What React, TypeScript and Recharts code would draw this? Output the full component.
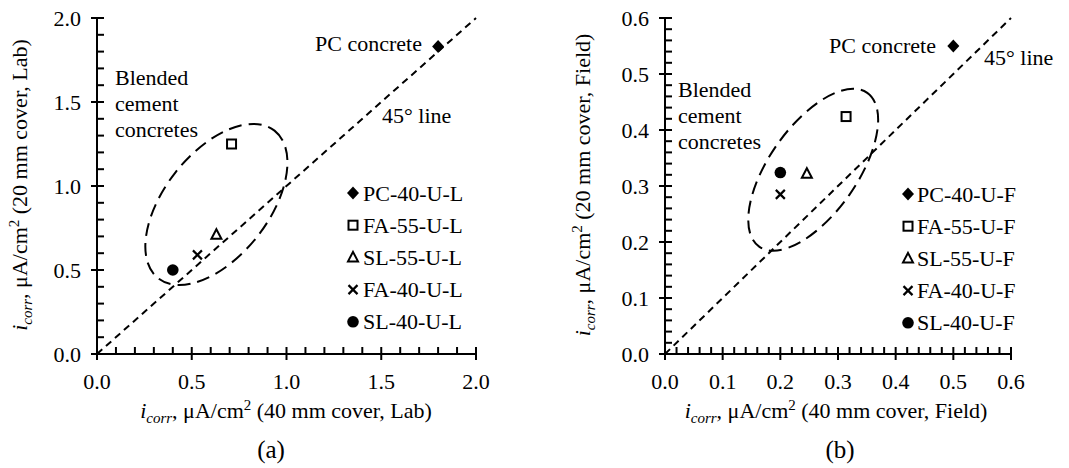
import React from 'react';
import { ScatterChart, Scatter, XAxis, YAxis, ReferenceLine, ReferenceDot, Legend } from 'recharts';

const FONT = '"Liberation Serif", "Times New Roman", Times, serif';

// (a) lab specimens: 40 mm cover vs 20 mm cover
const labPC = [{ x: 1.8, y: 1.83 }];
const labFA55 = [{ x: 0.71, y: 1.25 }];
const labSL55 = [{ x: 0.63, y: 0.71 }];
const labFA40 = [{ x: 0.53, y: 0.59 }];
const labSL40 = [{ x: 0.4, y: 0.5 }];

// (b) field specimens
const fieldPC = [{ x: 0.5, y: 0.55 }];
const fieldFA55 = [{ x: 0.314, y: 0.424 }];
const fieldSL55 = [{ x: 0.246, y: 0.322 }];
const fieldFA40 = [{ x: 0.2, y: 0.285 }];
const fieldSL40 = [{ x: 0.2, y: 0.324 }];

const labNames = ['PC-40-U-L', 'FA-55-U-L', 'SL-55-U-L', 'FA-40-U-L', 'SL-40-U-L'];
const fieldNames = ['PC-40-U-F', 'FA-55-U-F', 'SL-55-U-F', 'FA-40-U-F', 'SL-40-U-F'];

const labMajor = [0, 0.5, 1, 1.5, 2];
const labTicks = [0, 0.1, 0.2, 0.3, 0.4, 0.5, 0.6, 0.7, 0.8, 0.9, 1, 1.1, 1.2, 1.3, 1.4, 1.5, 1.6, 1.7, 1.8, 1.9, 2];
const fieldMajor = [0, 0.1, 0.2, 0.3, 0.4, 0.5, 0.6];
const fieldTicks = [
  0, 0.02, 0.04, 0.06, 0.08, 0.1, 0.12, 0.14, 0.16, 0.18, 0.2, 0.22, 0.24, 0.26, 0.28, 0.3,
  0.32, 0.34, 0.36, 0.38, 0.4, 0.42, 0.44, 0.46, 0.48, 0.5, 0.52, 0.54, 0.56, 0.58, 0.6,
];

// 45 degree line ends and the "blended" ellipse centres
const labDiag = [{ x: 0, y: 0 }, { x: 2, y: 2 }];
const fieldDiag = [{ x: 0, y: 0 }, { x: 0.6, y: 0.6 }];
const labBlend = { x: 0.63, y: 0.89 };
const fieldBlend = { x: 0.257, y: 0.329 };

const Diamond = ({ cx, cy }: any) => (
  <path d={`M${cx} ${cy - 6.5}L${cx + 6} ${cy}L${cx} ${cy + 6.5}L${cx - 6} ${cy}Z`} fill="#000" />
);
const Square = ({ cx, cy }: any) => (
  <rect x={cx - 4.5} y={cy - 4.5} width={9} height={9} fill="none" stroke="#000" strokeWidth={2} />
);
const Triangle = ({ cx, cy }: any) => (
  <path d={`M${cx} ${cy - 5.5}L${cx + 5} ${cy + 4}L${cx - 5} ${cy + 4}Z`} fill="none" stroke="#000" strokeWidth={2} />
);
const Cross = ({ cx, cy }: any) => (
  <path d={`M${cx - 4.5} ${cy - 4.5}L${cx + 4.5} ${cy + 4.5}M${cx + 4.5} ${cy - 4.5}L${cx - 4.5} ${cy + 4.5}`} stroke="#000" strokeWidth={2.2} />
);
const Dot = ({ cx, cy }: any) => <circle cx={cx} cy={cy} r={5.8} fill="#000" />;

const markers = [Diamond, Square, Triangle, Cross, Dot];

const near = (list: number[], v: number) => list.some((m) => Math.abs(m - v) < 1e-6);

const makeXTick = (major: number[]) => (props: any) => {
  const { x, y, payload } = props;
  const isMajor = near(major, payload.value);
  return (
    <g>
      <path d={`M${x} ${y - 7}V${isMajor ? y + 6 : y}`} stroke="#000" strokeWidth={2} fill="none" />
      {isMajor && (
        <text x={x} y={y + 35} textAnchor="middle" fontFamily={FONT} fontSize={22} fill="#000">
          {payload.value.toFixed(1)}
        </text>
      )}
    </g>
  );
};

const makeYTick = (major: number[]) => (props: any) => {
  const { x, y, payload } = props;
  const isMajor = near(major, payload.value);
  return (
    <g>
      <path d={`M${isMajor ? x - 6 : x} ${y}H${x + 7}`} stroke="#000" strokeWidth={2} fill="none" />
      {isMajor && (
        <text x={x - 16} y={y + 7.5} textAnchor="end" fontFamily={FONT} fontSize={22} fill="#000">
          {payload.value.toFixed(1)}
        </text>
      )}
    </g>
  );
};

const makeLegend = (names: string[], markerX: number, textX: number) => () => (
  <svg width={180} height={170} style={{ overflow: 'visible' }}>
    {names.map((name, i) => {
      const M = markers[i];
      const cy = 16 + i * 32.2;
      return (
        <g key={name}>
          <M cx={markerX} cy={cy} />
          <text x={textX} y={cy + 7.5} fontFamily={FONT} fontSize={22} fill="#000">
            {name}
          </text>
        </g>
      );
    })}
  </svg>
);

const ellipseShape = (rx: number, ry: number, angle: number) => (p: any) => (
  <ellipse
    cx={p.cx}
    cy={p.cy}
    rx={rx}
    ry={ry}
    transform={`rotate(${-angle} ${p.cx} ${p.cy})`}
    fill="none"
    stroke="#000"
    strokeWidth={2}
    strokeDasharray="13 7"
  />
);

const axisLine = { stroke: '#000', strokeWidth: 2 };

const Panel = ({ series, names, max, ticks, major, diag, blend, ell, margin, width, legendPos }: any) => (
  <ScatterChart width={width} height={468} margin={margin}>
    <XAxis
      type="number"
      dataKey="x"
      domain={[0, max]}
      ticks={ticks}
      interval={0}
      tickSize={0}
      tickMargin={0}
      tickLine={false}
      axisLine={axisLine}
      tick={makeXTick(major)}
      height={40}
      allowDataOverflow
    />
    <YAxis
      type="number"
      dataKey="y"
      domain={[0, max]}
      ticks={ticks}
      interval={0}
      tickSize={0}
      tickMargin={0}
      tickLine={false}
      axisLine={axisLine}
      tick={makeYTick(major)}
      width={60}
      allowDataOverflow
    />
    <ReferenceLine segment={diag} stroke="#000" strokeWidth={2} strokeDasharray="7 5" ifOverflow="visible" />
    <ReferenceDot x={blend.x} y={blend.y} r={1} ifOverflow="visible" shape={ellipseShape(ell[0], ell[1], ell[2])} />
    {series.map((data: any, i: number) => (
      <Scatter key={names[i]} name={names[i]} data={data} shape={markers[i]} isAnimationActive={false} />
    ))}
    <Legend
      layout="vertical"
      align="center"
      verticalAlign="middle"
      content={makeLegend(names, legendPos[2], legendPos[3])}
      wrapperStyle={{ left: legendPos[0], top: legendPos[1], width: 180, height: 170 }}
    />
  </ScatterChart>
);

const AxisTitle = ({ x, y, rotate, cover, site }: any) => (
  <text
    x={x}
    y={y}
    textAnchor="middle"
    fontFamily={FONT}
    fontSize={22}
    fill="#000"
    transform={rotate ? `rotate(-90 ${x} ${y})` : undefined}
  >
    <tspan fontStyle="italic">i</tspan>
    <tspan fontStyle="italic" fontSize={15} dy={5}>corr</tspan>
    <tspan dy={-5}>, μA/cm</tspan>
    <tspan fontSize={15} dy={-8}>2</tspan>
    <tspan dy={8}>{` (${cover} mm cover, ${site})`}</tspan>
  </text>
);

const Note = ({ x, y, anchor, children }: any) => (
  <text x={x} y={y} textAnchor={anchor || 'start'} fontFamily={FONT} fontSize={22} fill="#000">
    {children}
  </text>
);

export default function App() {
  return (
    <div style={{ position: 'absolute', left: 0, top: 0, width: 1069, height: 468, background: '#fff' }}>
      <div style={{ position: 'absolute', left: 0, top: 0 }}>
        <Panel
          series={[labPC, labFA55, labSL55, labFA40, labSL40]}
          names={labNames}
          max={2}
          ticks={labTicks}
          major={labMajor}
          diag={labDiag}
          blend={labBlend}
          ell={[94, 52, 51.8]}
          width={540}
          margin={{ top: 18, right: 64, bottom: 74, left: 37 }}
          legendPos={[345, 177, 8, 18]}
        />
      </div>
      <div style={{ position: 'absolute', left: 540, top: 0 }}>
        <Panel
          series={[fieldPC, fieldFA55, fieldSL55, fieldFA40, fieldSL40]}
          names={fieldNames}
          max={0.6}
          ticks={fieldTicks}
          major={fieldMajor}
          diag={fieldDiag}
          blend={fieldBlend}
          ell={[94, 44, 54.9]}
          width={529}
          margin={{ top: 18, right: 58, bottom: 74, left: 65 }}
          legendPos={[360, 178, 8, 17]}
        />
      </div>
      <svg width={1069} height={468} style={{ position: 'absolute', left: 0, top: 0, pointerEvents: 'none' }}>
        <AxisTitle x={286} y={418} cover={40} site="Lab" />
        <AxisTitle x={27} y={185} rotate cover={20} site="Lab" />
        <AxisTitle x={836} y={418} cover={40} site="Field" />
        <AxisTitle x={590} y={185} rotate cover={20} site="Field" />
        <text x={271} y={458} textAnchor="middle" fontFamily={FONT} fontSize={25} fill="#000">(a)</text>
        <text x={840} y={458} textAnchor="middle" fontFamily={FONT} fontSize={25} fill="#000">(b)</text>

        <Note x={422} y={51} anchor="end">PC concrete</Note>
        <Note x={382} y={123}>45° line</Note>
        <Note x={115} y={85}>Blended</Note>
        <Note x={115} y={111}>cement</Note>
        <Note x={115} y={137}>concretes</Note>

        <Note x={936} y={53} anchor="end">PC concrete</Note>
        <Note x={984} y={65}>45° line</Note>
        <Note x={678} y={97}>Blended</Note>
        <Note x={678} y={123}>cement</Note>
        <Note x={678} y={149}>concretes</Note>
      </svg>
    </div>
  );
}
